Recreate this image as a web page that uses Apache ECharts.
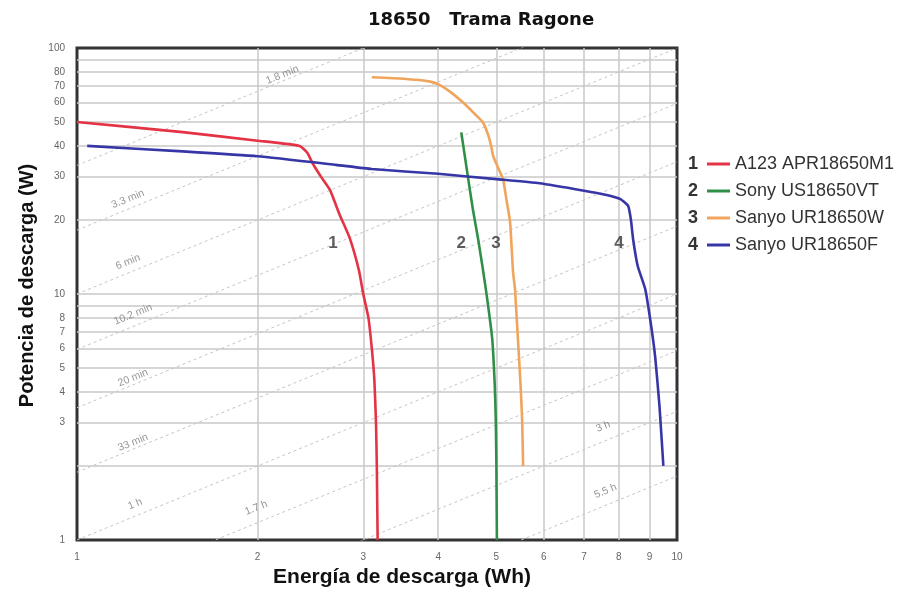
<!DOCTYPE html>
<html><head><meta charset="utf-8">
<script src="https://cdn.jsdelivr.net/npm/echarts@6/dist/echarts.min.js"></script>
<style>html,body{margin:0;padding:0;background:#fff}#c{width:900px;height:593px}</style>
</head><body><div id="c"></div>
<script>
// ---- data (Energy Wh, Power W) ----
const seriesNames = ['A123 APR18650M1', 'Sony US18650VT', 'Sanyo UR18650W', 'Sanyo UR18650F'];
const seriesNumbers = ['1', '2', '3', '4'];
const seriesColors = ['#e33345', '#2f8f46', '#f0a55c', '#3636a6'];

const a123 = [[1,50],[1.5,45.5],[2,42],[2.35,40],[2.42,37.5],[2.47,34],[2.55,30],[2.64,26.5],[2.74,21],[2.85,16.8],[2.95,12.5],[3.0,10],[3.06,8],[3.1,6],[3.13,4.5],[3.15,3],[3.16,2],[3.17,1]];
const sonyVT = [[4.37,45.4],[4.48,30.2],[4.57,22],[4.66,16.8],[4.75,12.5],[4.82,9.8],[4.92,6.6],[4.97,4.2],[4.99,3],[5.0,2],[5.01,1]];
const sanyoW = [[3.1,76],[3.5,75],[3.88,73],[4.02,70.8],[4.2,66],[4.4,60],[4.6,54],[4.75,49.8],[4.85,44],[4.9,40],[4.94,36.3],[5.05,32],[5.13,29.3],[5.2,24],[5.27,19.6],[5.33,12.3],[5.37,10.5],[5.43,6.6],[5.48,4.5],[5.52,3.06],[5.54,2]];
const sanyoF = [[1.04,40],[1.5,38],[2,36.3],[2.7,33.5],[3.1,32.2],[4,30.8],[5,29.3],[5.9,28.2],[7,26.3],[7.6,25.3],[8.05,24.3],[8.29,22.8],[8.38,20],[8.45,16.7],[8.6,13],[8.85,10.5],[9.05,7.5],[9.2,5.5],[9.35,3.5],[9.49,2]];

// curve number labels placed in the plot [E, P, text]
const curveLabels = [[2.67,16,'1'],[4.37,16,'2'],[4.99,16,'3'],[8.0,16,'4']];

// iso-time lines (hours) and their labels [E, P, text]
const isoTimesH = [0.03, 0.055, 0.1, 0.168, 0.29, 0.53, 1, 1.7, 3, 5.5];
const isoLabels = [[2.2,77.8,'1.8 min'],[1.216,24.3,'3.3 min'],[1.216,13.5,'6 min'],[1.24,8.26,'10.2 min'],[1.24,4.56,'20 min'],[1.24,2.49,'33 min'],[1.25,1.40,'1 h'],[1.99,1.35,'1.7 h'],[7.53,2.89,'3 h'],[7.6,1.58,'5.5 h']];

// axis ticks / gridlines
const xTickValues = [2,3,4,5,6,7,8,9];
const yGridValues = [2,3,4,5,6,7,8,9,20,30,40,50,60,70,80,90];
const yTickLabels = [3,4,5,6,7,8,20,30,40,50,60,70,80];

const chart = echarts.init(document.getElementById('c'), null, {renderer: 'canvas'});
const labelFont = {color: '#666', fontSize: 10, fontFamily: 'Liberation Sans'};
const gridLine = {color: '#c8c8c8', width: 1.5, type: 'solid'};
const curveData = [a123, sonyVT, sanyoW, sanyoF];

const series = [];
// gridlines helper
series.push({
  type: 'line', data: [[1,1]], symbol: 'none', silent: true, lineStyle: {opacity: 0}, z: 1,
  markLine: {
    silent: true, symbol: ['none','none'], z: 1, animation: false,
    emphasis: {disabled: true},
    lineStyle: gridLine,
    label: {show: false},
    data: [].concat(
      xTickValues.map(v => ({xAxis: v, name: String(v), label: Object.assign({show: true, position: 'start', formatter: '{b}', distance: 12}, labelFont)})),
      yGridValues.map(v => ({yAxis: v, name: String(v), label: Object.assign({show: yTickLabels.indexOf(v) >= 0, position: 'start', formatter: '{b}', distance: 12}, labelFont)}))
    )
  }
});
// iso-time lines
isoTimesH.forEach(t => {
  series.push({
    type: 'line', data: [[1, 1 / t], [10, 10 / t]], symbol: 'none', silent: true, z: 2, clip: true,
    lineStyle: {color: '#c6c6c6', width: 1, type: [3, 3]}
  });
});
// iso labels
series.push({
  type: 'scatter', data: isoLabels, symbolSize: 0.01, silent: true, z: 3,
  label: {show: true, position: 'inside', rotate: 22, formatter: p => p.data[2], color: '#7a7a7a', fontSize: 10.5, fontFamily: 'Liberation Sans'}
});
// curves
curveData.forEach((d, i) => {
  series.push({
    name: seriesNames[i], type: 'line', data: d, symbol: 'none', showSymbol: false, smooth: 0.15, z: 5, silent: true,
    lineStyle: {color: seriesColors[i], width: 2.6}, itemStyle: {color: seriesColors[i]}
  });
});
// curve number labels
series.push({
  type: 'scatter', data: curveLabels, symbolSize: 0.01, silent: true, z: 6,
  label: {show: true, position: 'inside', formatter: p => p.data[2], color: '#333', fontSize: 17, fontWeight: 'bold', fontFamily: 'Liberation Sans'}
});

const legendTop = 150, legendPitch = 27;
chart.setOption({
  animation: false,
  backgroundColor: '#fff',
  title: {
    text: '18650   Trama Ragone', left: 476, top: 6, textAlign: 'center',
    textStyle: {fontFamily: 'DejaVu Sans', fontWeight: 'bold', fontSize: 18, color: '#111'}
  },
  grid: {left: 77, right: 223, top: 48, bottom: 50, show: true, borderColor: '#333', borderWidth: 3, backgroundColor: '#fff'},
  legend: {
    data: seriesNames, orient: 'vertical', left: 702, top: legendTop, itemWidth: 23, itemHeight: 3, icon: 'rect',
    itemGap: 9, selectedMode: false,
    textStyle: {fontSize: 18, color: '#333', fontFamily: 'Liberation Sans'}
  },
  graphic: seriesNumbers.map((n, i) => ({
    type: 'text', left: 688, top: legendTop + 5 + i * legendPitch,
    style: {text: n, fontSize: 18, fontWeight: 'bold', fill: '#333', fontFamily: 'Liberation Sans'}
  })),
  xAxis: {
    type: 'log', logBase: 10, min: 1, max: 10,
    name: 'Energía de descarga (Wh)', nameLocation: 'middle', nameGap: 27,
    nameTextStyle: {fontSize: 21, fontWeight: 'bold', color: '#111', fontFamily: 'Liberation Sans', padding: [0, 0, 0, 50]},
    axisLine: {show: false}, axisTick: {show: false},
    axisLabel: Object.assign({margin: 12}, labelFont),
    splitLine: {show: true, showMinLine: false, showMaxLine: false, lineStyle: gridLine}
  },
  yAxis: {
    type: 'log', logBase: 10, min: 1, max: 100,
    name: 'Potencia de descarga (W)', nameLocation: 'middle', nameGap: 27,
    nameTextStyle: {fontSize: 20, fontWeight: 'bold', color: '#111', fontFamily: 'Liberation Sans', padding: [0, 0, 0, 17]},
    axisLine: {show: false}, axisTick: {show: false},
    axisLabel: Object.assign({margin: 12}, labelFont),
    splitLine: {show: true, showMinLine: false, showMaxLine: false, lineStyle: gridLine}
  },
  series: series
});
</script>
</body></html>
